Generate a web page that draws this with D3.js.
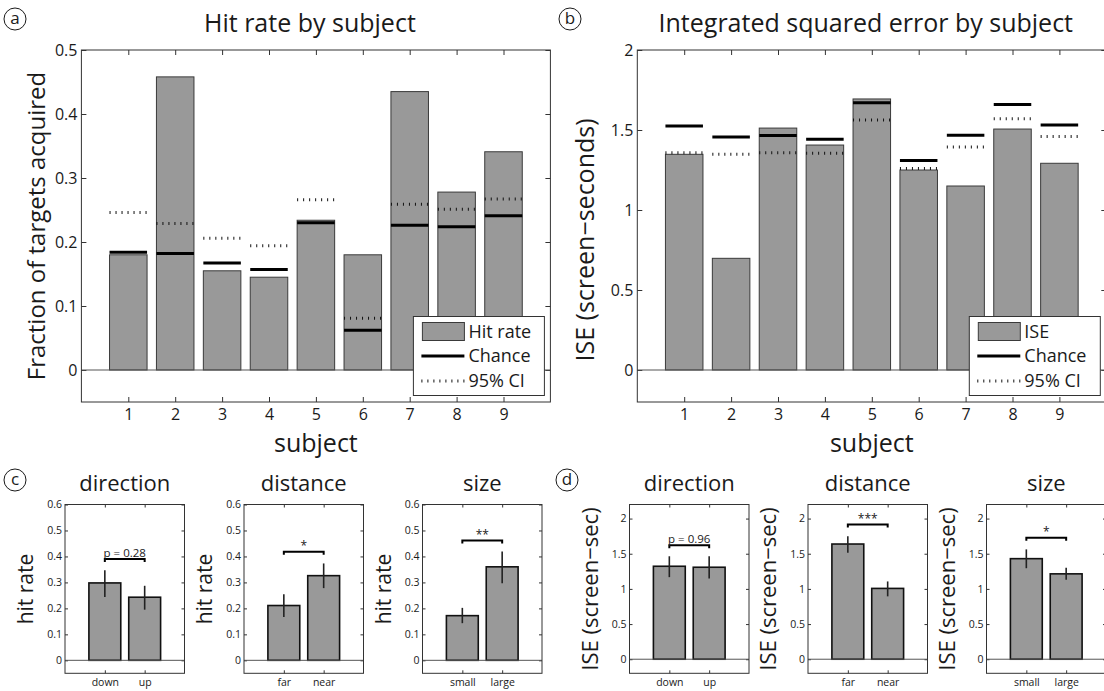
<!DOCTYPE html>
<html><head><meta charset="utf-8">
<script src="https://cdn.jsdelivr.net/npm/d3@7"></script>
<style>
html,body{margin:0;padding:0;background:#fff;}
svg{display:block;font-family:"Open Sans",sans-serif;}
</style></head><body>
<svg id="fig" width="1104" height="691"></svg>
<script>
// ---- per-subject results ----
const subjects  = [1, 2, 3, 4, 5, 6, 7, 8, 9];
const hitRate   = [0.180, 0.458, 0.155, 0.145, 0.234, 0.180, 0.435, 0.278, 0.341];
const hitChance = [0.184, 0.182, 0.167, 0.157, 0.230, 0.062, 0.226, 0.224, 0.241];
const hitCI95   = [0.246, 0.229, 0.206, 0.194, 0.266, 0.081, 0.259, 0.251, 0.267];
const iseValue  = [1.348, 0.698, 1.512, 1.406, 1.694, 1.250, 1.150, 1.506, 1.292];
const iseChance = [1.525, 1.456, 1.465, 1.442, 1.671, 1.310, 1.467, 1.660, 1.531];
const iseCI95   = [1.358, 1.348, 1.358, 1.354, 1.562, 1.260, 1.394, 1.571, 1.460];
const hitTicks  = [0, 0.1, 0.2, 0.3, 0.4, 0.5];
const iseTicks  = [0, 0.5, 1, 1.5, 2];

// ---- results split by target factor ----
const factors    = ["direction", "distance", "size"];
const levels     = [["down", "up"], ["far", "near"], ["small", "large"]];
const hitMean    = [[0.298, 0.243], [0.211, 0.326], [0.172, 0.360]];
const hitLow     = [[0.244, 0.195], [0.167, 0.278], [0.143, 0.297]];
const hitHigh    = [[0.347, 0.287], [0.254, 0.373], [0.202, 0.419]];
const hitSigText = ["p = 0.28", "*", "**"];
const hitSigAt   = [0.390, 0.418, 0.461];
const iseMean    = [[1.322, 1.308], [1.638, 1.007], [1.430, 1.214]];
const iseLow     = [[1.167, 1.148], [1.515, 0.894], [1.294, 1.129]];
const iseHigh    = [[1.464, 1.464], [1.750, 1.106], [1.562, 1.299]];
const iseSigText = ["p = 0.96", "***", "*"];
const iseSigAt   = [1.620, 1.915, 1.727];
const factorHitTicks = [0, 0.1, 0.2, 0.3, 0.4, 0.5, 0.6];
const factorIseTicks = [0, 0.5, 1, 1.5, 2];

const BAR = "#999999", EDGE = "#3a3a3a", AXIS = "#333333", INK = "#1a1a1a";
const svg = d3.select("#fig");

// frame with inward ticks on all four sides, labels on left and bottom
function boxAxes(g, x, y, xt, yt, tick, fs, xfmt, pad, xpad) {
  const [x0, x1] = x.range(), [y0, y1] = y.range();
  const strip = a => { a.select(".domain").remove(); a.selectAll("line").attr("stroke", AXIS); };
  const style = a => a.selectAll("text").attr("font-size", fs).attr("fill", INK).attr("font-family", "Open Sans");
  g.append("g").attr("transform", `translate(${x0},0)`)
    .call(d3.axisLeft(y).tickValues(yt).tickSize(-tick).tickPadding(pad).tickFormat(d => String(d)))
    .call(strip).call(style);
  g.append("g").attr("transform", `translate(${x1},0)`)
    .call(d3.axisRight(y).tickValues(yt).tickSize(-tick).tickFormat("")).call(strip);
  g.append("g").attr("transform", `translate(0,${y1})`)
    .call(d3.axisTop(x).tickValues(xt).tickSize(-tick).tickFormat("")).call(strip);
  g.append("g").attr("transform", `translate(0,${y0})`)
    .call(d3.axisBottom(x).tickValues(xt).tickSize(-tick).tickPadding(xpad).tickFormat(xfmt))
    .call(strip).call(style);
  g.append("line").attr("x1", x0).attr("x2", x1).attr("y1", y(0)).attr("y2", y(0))
    .attr("stroke", "#555").attr("stroke-width", 1);
  g.append("rect").attr("x", x0).attr("y", y1).attr("width", x1 - x0).attr("height", y0 - y1)
    .attr("fill", "none").attr("stroke", AXIS).attr("stroke-width", 1);
}

function panelTag(cx, cy, letter) {
  svg.append("circle").attr("cx", cx).attr("cy", cy).attr("r", 11)
    .attr("fill", "none").attr("stroke", INK).attr("stroke-width", 1);
  svg.append("text").attr("x", cx).attr("y", cy + 5).attr("text-anchor", "middle")
    .attr("font-size", 17).attr("fill", INK).text(letter);
}

function subjectPanel(cfg) {
  const g = svg.append("g");
  const x = d3.scaleLinear().domain([0, 10]).range([cfg.left, cfg.right]);
  const y = d3.scaleLinear().domain(cfg.yDomain).range([cfg.bottom, cfg.top]);
  const half = x(0.4) - x(0);
  g.append("g").selectAll("rect").data(subjects).join("rect")
    .attr("x", d => x(d) - half).attr("width", 2 * half)
    .attr("y", (d, i) => y(cfg.values[i]))
    .attr("height", (d, i) => y(0) - y(cfg.values[i]))
    .attr("fill", BAR).attr("stroke", EDGE).attr("stroke-width", 1);
  g.append("g").selectAll("line").data(subjects).join("line")
    .attr("x1", d => x(d) - half).attr("x2", d => x(d) + half)
    .attr("y1", (d, i) => y(cfg.chance[i])).attr("y2", (d, i) => y(cfg.chance[i]))
    .attr("stroke", "#000").attr("stroke-width", 3);
  g.append("g").selectAll("line").data(subjects).join("line")
    .attr("x1", d => x(d) - half).attr("x2", d => x(d) + half)
    .attr("y1", (d, i) => y(cfg.ci[i])).attr("y2", (d, i) => y(cfg.ci[i]))
    .attr("stroke", "#111").attr("stroke-width", 3).attr("stroke-dasharray", "1,5");
  boxAxes(g, x, y, subjects, cfg.ticks, 5, 16, d => d, 4, 7);

  // legend
  const lx0 = cfg.right - 137, lx1 = cfg.right - 6, ly0 = 316.5, ly1 = 395.5;
  const lg = g.append("g");
  lg.append("rect").attr("x", lx0).attr("y", ly0).attr("width", lx1 - lx0).attr("height", ly1 - ly0)
    .attr("fill", "#fff").attr("stroke", AXIS).attr("stroke-width", 1);
  lg.append("rect").attr("x", lx0 + 9).attr("y", ly0 + 6).attr("width", 42).attr("height", 18)
    .attr("fill", BAR).attr("stroke", EDGE).attr("stroke-width", 1);
  lg.append("line").attr("x1", lx0 + 8).attr("x2", lx0 + 51).attr("y1", ly0 + 39.5).attr("y2", ly0 + 39.5)
    .attr("stroke", "#000").attr("stroke-width", 3);
  lg.append("line").attr("x1", lx0 + 8).attr("x2", lx0 + 51).attr("y1", ly0 + 64.5).attr("y2", ly0 + 64.5)
    .attr("stroke", "#111").attr("stroke-width", 3).attr("stroke-dasharray", "1,5");
  [cfg.legendLabel, "Chance", "95% CI"].forEach((t, i) => {
    lg.append("text").attr("x", lx0 + 55).attr("y", ly0 + 21 + 24.5 * i)
      .attr("font-size", 18).attr("fill", INK).text(t);
  });

  // titles
  const mid = (cfg.left + cfg.right) / 2;
  g.append("text").attr("x", mid - 6).attr("y", 32).attr("text-anchor", "middle")
    .attr("font-size", 25).attr("fill", INK).text(cfg.title);
  g.append("text").attr("x", mid).attr("y", 452).attr("text-anchor", "middle")
    .attr("font-size", 25).attr("fill", INK).text("subject");
  g.append("text").attr("transform", `translate(${cfg.ylabelX},${cfg.ylabelY}) rotate(-90)`)
    .attr("text-anchor", "middle").attr("font-size", cfg.ylabelSize).attr("fill", INK).text(cfg.ylabel);
}

function factorPanel(cfg) {
  const g = svg.append("g");
  const x = d3.scaleLinear().domain([0, 3]).range([cfg.left, cfg.left + 119.5]);
  const y = d3.scaleLinear().domain(cfg.yDomain).range([673.3, 504.5]);
  const half = x(0.4) - x(0);
  const idx = [1, 2];
  g.append("g").selectAll("rect").data(idx).join("rect")
    .attr("x", d => x(d) - half).attr("width", 2 * half)
    .attr("y", (d, i) => y(cfg.mean[i])).attr("height", (d, i) => y(0) - y(cfg.mean[i]))
    .attr("fill", BAR).attr("stroke", "#111").attr("stroke-width", 1.6);
  g.append("g").selectAll("line").data(idx).join("line")
    .attr("x1", d => x(d)).attr("x2", d => x(d))
    .attr("y1", (d, i) => y(cfg.low[i])).attr("y2", (d, i) => y(cfg.high[i]))
    .attr("stroke", "#222").attr("stroke-width", 1.6);
  boxAxes(g, x, y, idx, cfg.ticks, 3, 10.5, d => cfg.names[d - 1], 3, 5);
  // significance bracket
  const sy = y(cfg.sigAt);
  g.append("path").attr("d", `M${x(1)},${sy + 3}V${sy}H${x(2)}V${sy + 3}`)
    .attr("fill", "none").attr("stroke", "#000").attr("stroke-width", 2);
  g.append("text").attr("x", (x(1) + x(2)) / 2).attr("y", sy - 2)
    .attr("text-anchor", "middle").attr("font-size", cfg.sigText.startsWith("p") ? 11.5 : 12)
    .attr("fill", INK).text(cfg.sigText);
  g.append("text").attr("x", x(1.5)).attr("y", 491).attr("text-anchor", "middle")
    .attr("font-size", 22).attr("fill", INK).text(cfg.title);
  g.append("text").attr("transform", `translate(${cfg.left - 32},${589}) rotate(-90)`)
    .attr("text-anchor", "middle").attr("font-size", cfg.ylabelSize).attr("fill", INK).text(cfg.ylabel);
}

subjectPanel({left: 81.4, right: 550.4, top: 50, bottom: 402, yDomain: [-0.05, 0.5],
  values: hitRate, chance: hitChance, ci: hitCI95, ticks: hitTicks,
  title: "Hit rate by subject", ylabel: "Fraction of targets acquired", legendLabel: "Hit rate",
  ylabelX: 45, ylabelY: 226, ylabelSize: 24});
subjectPanel({left: 637.3, right: 1106.3, top: 50, bottom: 402, yDomain: [-0.2, 2],
  values: iseValue, chance: iseChance, ci: iseCI95, ticks: iseTicks,
  title: "Integrated squared error by subject", ylabel: "ISE (screen\u2212seconds)", legendLabel: "ISE",
  ylabelX: 594, ylabelY: 240, ylabelSize: 25});

const hitLefts = [65, 244, 422.5], iseLefts = [629.5, 808, 986.5];
factors.forEach((f, k) => {
  factorPanel({left: hitLefts[k], yDomain: [-0.05, 0.6], ticks: factorHitTicks, title: f,
    names: levels[k], mean: hitMean[k], low: hitLow[k], high: hitHigh[k],
    sigText: hitSigText[k], sigAt: hitSigAt[k], ylabel: "hit rate", ylabelSize: 21});
  factorPanel({left: iseLefts[k], yDomain: [-0.2, 2.2], ticks: factorIseTicks, title: f,
    names: levels[k], mean: iseMean[k], low: iseLow[k], high: iseHigh[k],
    sigText: iseSigText[k], sigAt: iseSigAt[k], ylabel: "ISE (screen\u2212sec)", ylabelSize: 22});
});

panelTag(15, 19, "a");
panelTag(570, 19, "b");
panelTag(15, 480, "c");
panelTag(567, 480, "d");
</script>
</body></html>
